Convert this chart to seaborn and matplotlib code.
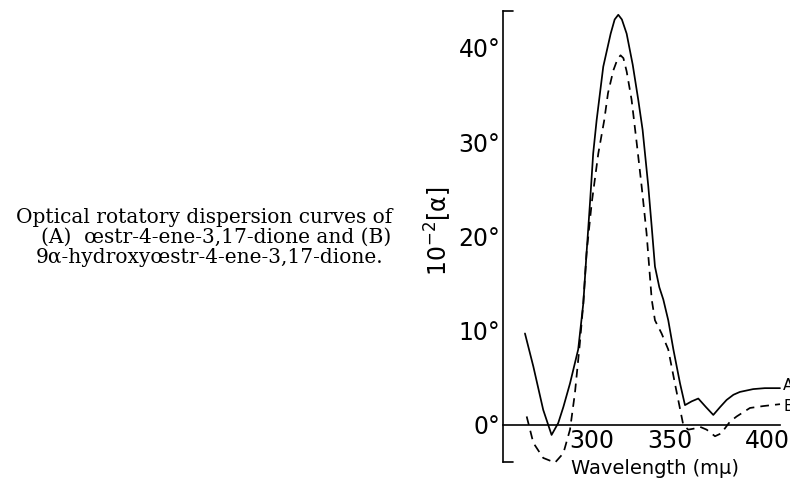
import matplotlib
matplotlib.use("Agg")
import matplotlib.pyplot as plt
import matplotlib.transforms as mtransforms
import seaborn as sns
import pandas as pd

# ---- data ----
wavelength_A = [265.8, 270.2, 275.4, 279.8, 283.3, 286.0, 289.5, 293.8, 296.5, 298.2,
                300.0, 301.7, 303.5, 307.0, 310.9, 313.0, 314.9, 316.8, 319.3, 322.5,
                325.4, 327.7, 330.7, 332.5, 334.2, 336.5, 338.6, 341.2, 343.9, 347.4,
                350.0, 353.5, 357.0, 361.0, 364.9, 368.5, 371.9, 375.5, 378.9, 385.9,
                392.0, 400.0]
rotation_A = [9.7, 6.2, 1.6, -1.06, 0.2, 1.9, 4.4, 8.0, 12.9, 18.2,
              23.5, 28.8, 32.3, 38.0, 41.5, 43.0, 43.5, 43.0, 41.5, 38.2,
              34.5, 31.3, 25.3, 21.0, 16.8, 14.6, 13.3, 11.1, 8.0, 4.4,
              2.1, 2.5, 2.8, 1.9, 1.06, 1.9, 2.65, 3.2, 3.5, 3.8,
              3.9, 3.9]

wavelength_B = [266.7, 270.2, 275.4, 281.6, 286.0, 289.5, 292.1, 294.7, 296.5, 298.2,
                300.9, 304.4, 307.5, 309.5, 312.3, 314.5, 316.1, 317.6, 319.3, 321.9,
                324.6, 327.2, 329.8, 332.5, 334.2, 337.7, 341.2, 344.7, 349.1, 351.7,
                354.5, 357.9, 361.4, 365.8, 369.0, 373.7, 377.2, 384.2, 391.2, 400.0]
rotation_B = [0.9, -1.9, -3.5, -4.0, -3.0, -0.5, 3.4, 8.7, 12.9, 18.2,
              23.5, 28.8, 32.3, 35.2, 37.6, 38.8, 39.2, 38.9, 37.5, 34.5,
              29.9, 25.3, 20.3, 13.3, 11.1, 9.7, 8.0, 4.4, 0.0, -0.5,
              -0.4, -0.2, -0.5, -1.2, -0.9, 0.35, 0.9, 1.8, 2.0, 2.2]

x_ticks = [300, 350, 400]
x_ticklabels = ["300", "350", "400"]
y_ticks = [0, 10, 20, 30, 40]
y_ticklabels = ["0°", "10°", "20°", "30°", "40°"]
curve_labels = ["A", "B"]

caption_lines = ["Optical rotatory dispersion curves of",
                 "(A)  œstr-4-ene-3,17-dione and (B)",
                 "9α-hydroxyœstr-4-ene-3,17-dione."]

# ---- plot ----
sns.set_style("white")
plt.rcParams['font.family'] = ['DejaVu Sans']
plt.rcParams['text.color'] = 'black'
plt.rcParams['axes.labelcolor'] = 'black'

W, H = 790, 482
fig = plt.figure(figsize=(W / 100, H / 100), dpi=100)
ax_left, ax_right, ax_top, ax_bottom = 503.3, 780.0, 11.0, 461.7
ax = fig.add_axes([ax_left / W, 1 - ax_bottom / H,
                   (ax_right - ax_left) / W, (ax_bottom - ax_top) / H])

dfA = pd.DataFrame({"wl": wavelength_A, "rot": rotation_A})
dfB = pd.DataFrame({"wl": wavelength_B, "rot": rotation_B})

sns.lineplot(data=dfA, x="wl", y="rot", ax=ax, color="black", lw=1.25,
             estimator=None, sort=False)
sns.lineplot(data=dfB, x="wl", y="rot", ax=ax, color="black", lw=1.25,
             estimator=None, sort=False)
ax.lines[1].set_dashes((5, 3.5))
for ln in ax.lines:
    ln.set_clip_on(False)
    ln.set_solid_joinstyle("round")
    ln.set_dash_joinstyle("round")

ax.set_xlim(254.4, 400)
ax.set_ylim(-3.9, 43.9)

for s in ["top", "right"]:
    ax.spines[s].set_visible(False)
ax.spines["bottom"].set_position(("data", 0))
for s in ["left", "bottom"]:
    ax.spines[s].set_linewidth(1.2)
    ax.spines[s].set_color("black")

ax.set_xticks(x_ticks)
ax.set_xticklabels(x_ticklabels)
ax.set_yticks(y_ticks)
ax.set_yticklabels(y_ticklabels)
ax.tick_params(axis="x", direction="in", length=6, width=1.1, pad=3,
               labelsize=17, colors="black")
ax.tick_params(axis="y", direction="in", length=7, width=1.1, pad=2,
               labelsize=17, colors="black")

# hand-lettered labels sit slightly off their ticks in the reference
x_label_shift_px = [2, -15, -13]
for lab, dx in zip(ax.get_xticklabels(), x_label_shift_px):
    lab.set_transform(lab.get_transform() +
                      mtransforms.ScaledTranslation(dx / 100, 0, fig.dpi_scale_trans))

# bracket caps at both ends of the y axis
cap = 10 / (ax_right - ax_left)
ax.plot([0, cap], [1, 1], transform=ax.transAxes, color="black", lw=1.2, clip_on=False)
ax.plot([0, cap], [0, 0], transform=ax.transAxes, color="black", lw=1.2, clip_on=False)

ax.set_xlabel("Wavelength (mμ)", fontsize=14, va="center")
ax.xaxis.set_label_coords((655 - ax_left) / (ax_right - ax_left),
                          (ax_bottom - 469) / (ax_bottom - ax_top))
ax.set_ylabel("10$^{-2}$[α]", fontsize=17, va="center")
ax.yaxis.set_label_coords((438 - ax_left) / (ax_right - ax_left),
                          (ax_bottom - 231) / (ax_bottom - ax_top))

ax.text(401.6, rotation_A[-1] + 0.3, curve_labels[0], fontsize=11, va="center", ha="left",
        clip_on=False)
ax.text(401.6, rotation_B[-1] - 0.2, curve_labels[1], fontsize=11, va="center", ha="left",
        clip_on=False)

cap_centers = [204, 216, 210]
cap_baselines = [223, 243, 263]
for line, cx, by in zip(caption_lines, cap_centers, cap_baselines):
    fig.text(cx / W, 1 - by / H, line, ha="center", va="baseline",
             fontsize=14.5, family=["DejaVu Serif"], color="black")

fig.savefig("out.png", dpi=100)
